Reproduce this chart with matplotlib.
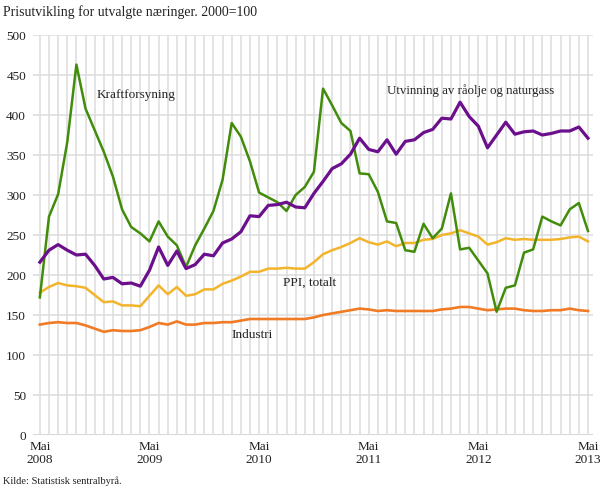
import matplotlib.pyplot as plt
import numpy as np

# Monthly index values, May 2008 - May 2013 (2000=100)
kraft = [172, 273, 301, 366, 463, 408, 381, 354, 323, 282, 260, 252,
         242, 267, 248, 237, 210, 237, 258, 280, 319, 390, 373, 342,
         303, 297, 291, 280, 300, 310, 329, 433, 412, 390, 380, 327,
         326, 304, 267, 265, 231, 229, 264, 246, 258, 302, 232, 234,
         218, 202, 154, 184, 187, 228, 232, 273, 267, 262, 282, 290,
         255]
utvinning = [216, 231, 238, 231, 225, 226, 212, 195, 197, 189, 190, 186,
             206, 235, 212, 230, 208, 213, 226, 224, 240, 245, 254, 274,
             273, 287, 288, 291, 285, 284, 302, 317, 333, 339, 351, 371,
             357, 354, 369, 351, 367, 369, 378, 382, 396, 395, 416, 398,
             386, 359, 375, 391, 376, 379, 380, 375, 377, 380, 380, 385,
             371]
ppi = [178, 185, 190, 187, 186, 184, 175, 166, 167, 162, 162, 161,
       174, 187, 176, 185, 174, 176, 182, 182, 189, 193, 198, 204,
       204, 208, 208, 209, 208, 208, 216, 226, 231, 235, 240, 246,
       241, 238, 242, 236, 240, 240, 244, 245, 250, 252, 256, 252,
       248, 238, 241, 246, 244, 245, 244, 244, 244, 245, 247, 248,
       242]
industri = [138, 140, 141, 140, 140, 137, 133, 129, 131, 130, 130, 131,
            135, 140, 138, 142, 138, 138, 140, 140, 141, 141, 143, 145,
            145, 145, 145, 145, 145, 145, 147, 150, 152, 154, 156, 158,
            157, 155, 156, 155, 155, 155, 155, 155, 157, 158, 160, 160,
            158, 156, 157, 158, 158, 156, 155, 155, 156, 156, 158, 156,
            155]
tick_labels = ['Mai\n2008', 'Mai\n2009', 'Mai\n2010', 'Mai\n2011', 'Mai\n2012', 'Mai\n2013']

FONT = 'Liberation Serif'
TEXT = '#222222'

plt.rcParams['font.family'] = FONT

fig = plt.figure(figsize=(6.1, 4.88), dpi=100)
ax = fig.add_axes([33 / 610, 1 - 435 / 488, 560 / 610, 400 / 488])

x = np.arange(len(kraft))
ax.plot(x, industri, color='#f07b24', lw=1.9, zorder=3)
ax.plot(x, ppi, color='#f2b42b', lw=1.8, zorder=3)
ax.plot(x, kraft, color='#428c0b', lw=1.8, zorder=4)
ax.plot(x, utvinning, color='#6b0f8c', lw=2.3, zorder=5)

ax.set_xlim(-0.75, 60.55)
ax.set_ylim(0, 500)
ax.set_xticks(np.arange(0, 61, 12))
ax.set_xticklabels(tick_labels, fontsize=9.5, color=TEXT)
ax.set_xticks(x, minor=True)
ax.set_yticks(np.arange(0, 501, 50))
ax.tick_params(axis='y', labelsize=9.5, colors=TEXT, length=0, pad=5)
ax.tick_params(axis='x', which='both', length=0, pad=4)
ax.grid(True, which='both', axis='x', color='#dcdcdc', lw=1.1, zorder=0)
ax.grid(True, which='major', axis='y', color='#dcdcdc', lw=1.1, zorder=0)
for s in ax.spines.values():
    s.set_visible(False)
ax.axhline(0, color='#bdbdbd', lw=1.2, zorder=1)

ax.text(6.2, 425, 'Kraftforsyning', fontsize=9.5, color=TEXT, va='center')
ax.text(38.0, 431, 'Utvinning av råolje og naturgass', fontsize=9.3, color=TEXT, va='center')
ax.text(26.6, 190, 'PPI, totalt', fontsize=9.5, color=TEXT, va='center')
ax.text(21.0, 125, 'Industri', fontsize=9.5, color=TEXT, va='center')

fig.text(3 / 610, 1 - 12 / 488, 'Prisutvikling for utvalgte næringer. 2000=100',
         fontsize=9.9, color=TEXT, va='center')
fig.text(3 / 610, 1 - 481 / 488, 'Kilde: Statistisk sentralbyrå.', fontsize=7.5, color=TEXT, va='center')

fig.savefig('out.png', dpi=100)
